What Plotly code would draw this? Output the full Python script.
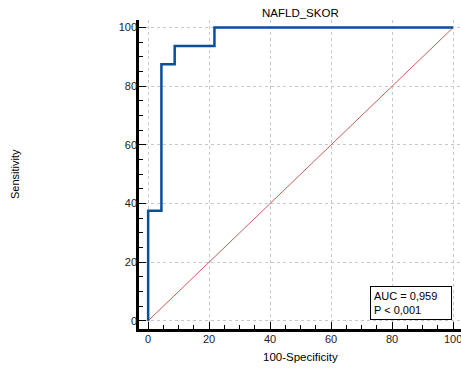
import plotly.graph_objects as go

# ROC curve data (100-Specificity, Sensitivity)
roc_x = [0, 0, 4.35, 4.35, 8.7, 8.7, 21.74, 21.74, 100]
roc_y = [0, 37.5, 37.5, 87.5, 87.5, 93.75, 93.75, 100, 100]
diag_x = [0, 100]
diag_y = [0, 100]
tick_vals = [0, 20, 40, 60, 80, 100]
title_text = "NAFLD_SKOR"
x_title = "100-Specificity"
y_title = "Sensitivity"
auc_text = "AUC = 0,959<br>P &lt; 0,001"

FONT = "Liberation Sans, Arial, sans-serif"

W, H = 461, 369
ML, MR, MT, MB = 139, 0, 20, 40

fig = go.Figure()
fig.add_trace(go.Scatter(x=diag_x, y=diag_y, mode="lines",
                         line=dict(color="#c85a5a", width=1),
                         hoverinfo="skip", showlegend=False))
fig.add_trace(go.Scatter(x=roc_x, y=roc_y, mode="lines",
                         line=dict(color="#0a4f9c", width=2.5),
                         showlegend=False))

axis_common = dict(
    tickvals=tick_vals,
    showgrid=True, gridcolor="#c8c8c8", griddash="dot", gridwidth=1,
    zeroline=False,
    showline=True, linecolor="black", linewidth=2.5,
    ticks="inside", ticklen=7, tickwidth=1.2, tickcolor="black",
    minor=dict(dtick=5, ticks="inside", ticklen=4, tickcolor="black", tickwidth=1, showgrid=False),
    tickfont=dict(family=FONT, size=11, color="#222"),
    ticklabeloverflow="allow",
)

fig.update_xaxes(range=[-3, 102.6], ticklabelstandoff=-2, **axis_common)
fig.update_yaxes(range=[-2.8, 102.6], ticklabelstandoff=-3, **axis_common)

fig.add_annotation(x=99.7, y=0.3, xref="x", yref="y", xanchor="right", yanchor="bottom",
                   text=auc_text, showarrow=False, align="left", width=74,
                   font=dict(family=FONT, size=11, color="black"),
                   bgcolor="white", bordercolor="black", borderwidth=1, borderpad=3)

fig.add_annotation(x=0.5, y=1, xref="paper", yref="paper", yanchor="middle", yshift=7,
                   text=title_text, showarrow=False,
                   font=dict(family=FONT, size=11.5, color="black"))
fig.add_annotation(x=0.5, y=0, xref="paper", yref="paper", yshift=-20, yanchor="top",
                   text=x_title, showarrow=False,
                   font=dict(family=FONT, size=11.5, color="black"))
pw, ph = W - ML - MR, H - MT - MB
fig.add_annotation(x=(15 - ML) / pw, y=(H - MB - 174) / ph, xref="paper", yref="paper",
                   xanchor="center", yanchor="middle", showarrow=False,
                   text=y_title, textangle=-90,
                   font=dict(family=FONT, size=11, color="black"))

fig.update_layout(
    width=W, height=H,
    margin=dict(l=ML, r=MR, t=MT, b=MB),
    plot_bgcolor="white", paper_bgcolor="white",
    showlegend=False,
)

fig.write_html("out.html", config={"displayModeBar": False},
               post_script="document.body.style.margin='0';document.body.style.overflow='hidden';")
